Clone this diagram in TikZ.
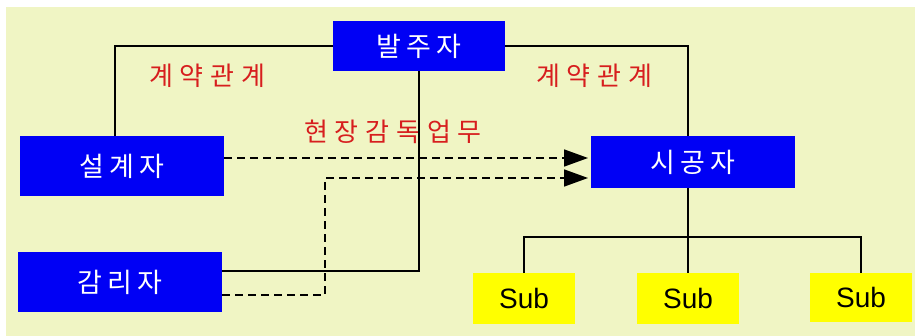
\documentclass[tikz,border=0pt]{standalone}
\usepackage{fontspec}
\setmainfont{Liberation Sans}
\newfontfamily\kr[LetterSpace=18]{Noto Sans CJK KR}
\newfontfamily\krl[LetterSpace=26]{Noto Sans CJK KR}
\usetikzlibrary{arrows.meta}
\definecolor{bgy}{RGB}{240,245,196}
\definecolor{boxblue}{RGB}{0,0,245}
\definecolor{subyel}{RGB}{255,255,0}
\definecolor{lblred}{RGB}{215,30,30}
\tikzset{
  bluebox/.style={fill=boxblue,draw=none,inner sep=0pt,text=white,font=\kr\fontsize{27}{29}\selectfont},
  subbox/.style={fill=subyel,draw=none,inner sep=0pt,text=black,minimum width=102pt,font=\fontsize{28}{30}\selectfont},
  rel/.style={text=lblred,font=\krl\fontsize{26}{28}\selectfont,inner sep=0pt},
  solidln/.style={line width=1.6pt,black},
  dashln/.style={line width=1.6pt,black,dash pattern=on 8pt off 5pt},
  tip/.style={-{Triangle[length=24pt,width=17pt]}}
}
\begin{document}
\begin{tikzpicture}[x=1pt,y=-1pt]
\useasboundingbox (0,0) rectangle (915,336);
\fill[white] (0,0) rectangle (915,336);
\fill[bgy] (6,7) rectangle (915,336);
% nodes
\node[bluebox,minimum width=172pt,minimum height=50pt] (bal) at (419,46) {발주자};
\node[bluebox,minimum width=204pt,minimum height=60pt] (seol) at (122,166) {설계자};
\node[bluebox,minimum width=204pt,minimum height=60pt] (gam) at (120,282) {감리자};
\node[bluebox,minimum width=204pt,minimum height=52pt] (sig) at (693,162) {시공자};
\node[subbox,minimum height=51pt] (sub1) at (524,298.5) {Sub};
\node[subbox,minimum height=51pt] (sub2) at (688,298.5) {Sub};
\node[subbox,minimum height=49pt] (sub3) at (861,297.5) {Sub};
% labels
\node[rel] (l1) at (207,76) {계약관계};
\node[rel] (l2) at (594,76) {계약관계};
\node[rel] (l3) at (393,132) {현장감독업무};
% coordinates
\coordinate (sTop) at (115,136);
\coordinate (cTop) at (688,136);
\coordinate (gR) at (222,271);
\coordinate (dA) at (224,158);
\coordinate (dAe) at (588,158);
\coordinate (gD) at (222,295);
\coordinate (dBk) at (325,295);
\coordinate (dBe) at (588,178);
\coordinate (cBot) at (688,188);
% solid connectors
\draw[solidln] (bal.west) -| (sTop);
\draw[solidln] (bal.east) -| (cTop);
\draw[solidln] (bal.south) |- (gR);
\draw[solidln] (cBot) -- (sub2.north);
\draw[solidln] (sub1.north) -- ++(0,-36) -| (sub3.north);
% dashed connectors
\draw[dashln,tip] (dA) -- (dAe);
\draw[dashln,tip] (gD) -- (dBk) |- (dBe);
\end{tikzpicture}
\end{document}
